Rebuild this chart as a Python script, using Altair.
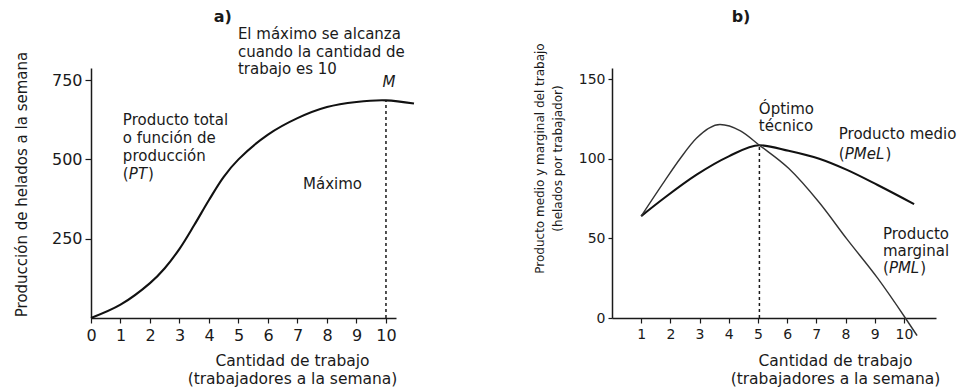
import altair as alt
import pandas as pd

# ---------------- data: panel a) ----------------
trabajo_a = [0, 1, 2, 2.5, 3, 3.5, 4, 4.5, 5, 6, 7, 8, 9, 10, 10.95]
producto_total = [0, 42, 110, 157, 218, 293, 372, 445, 500, 578, 630, 665, 681, 686, 676]
maximo_L = [10]
maximo_PT = [686]

# ---------------- data: panel b) ----------------
trabajo_pme = [1, 1.8, 2.9, 4.0, 5.05, 6.05, 7.1, 8.05, 9.1, 10.35]
producto_medio = [64, 75.5, 90, 101.5, 108.5, 105, 100, 93, 83.5, 71.5]
trabajo_pm = [1, 1.8, 2.35, 2.9, 3.7, 4.4, 5.05, 6.05, 7.1, 8.05, 9.1, 10.05, 10.45]
producto_marginal = [64, 86, 100.5, 113, 121.5, 117.5, 108.5, 94, 72.5, 49.5, 25, 0, -11]
optimo_L = [5.05]
optimo_P = [108.5]

# ---------------- ticks ----------------
xticks_a = list(range(0, 11))
yticks_a = [250, 500, 750]
xticks_b = list(range(1, 11))
yticks_b = [0, 50, 100, 150]

# ---------------- texts ----------------
title_a = "a)"
title_b = "b)"
xtitle = ["Cantidad de trabajo", "(trabajadores a la semana)"]
ytitle_a = "Producción de helados a la semana"
ytitle_b = ["Producto medio y marginal del trabajo", "(helados por trabajador)"]
nota_max = ["El máximo se alcanza", "cuando la cantidad de", "trabajo es 10"]
nota_pt = ["Producto total", "o función de", "producción"]
nota_optimo = ["Óptimo", "técnico"]
nota_pml = ["Producto", "marginal"]

FONT = "DejaVu Sans"
INK = "#1a1a1a"
AFS = 15  # annotation font size

xs_a = alt.Scale(domain=[0, 10.34], nice=False)
ys_a = alt.Scale(domain=[0, 788], nice=False)
xs_b = alt.Scale(domain=[0, 11.1], nice=False)
ys_b = alt.Scale(domain=[0, 157], nice=False)

axis_common = dict(
    grid=False, domainColor=INK, domainWidth=1.5, tickColor=INK, tickWidth=1.2,
    labelColor=INK, titleColor=INK, labelFont=FONT, titleFont=FONT,
    titleFontWeight="normal", labelFlush=False, labelOverlap=False, format="d",
)
ax_xa = alt.Axis(values=xticks_a, title=xtitle, tickSize=5, labelFontSize=16, labelPadding=4,
                 titleFontSize=15.5, titleX=201, titleY=35, titleAlign="center",
                 titleBaseline="top", titleLineHeight=18, **axis_common)
ax_ya = alt.Axis(values=yticks_a, title=ytitle_a, tickSize=6, labelFontSize=16, labelPadding=3,
                 titleFontSize=15, titleX=-70, titleY=116, titleAngle=270,
                 titleAlign="center", titleBaseline="middle", **axis_common)
ax_xb = alt.Axis(values=xticks_b, title=xtitle, tickSize=5, labelFontSize=14, labelPadding=4,
                 titleFontSize=15.5, titleX=223, titleY=35, titleAlign="center",
                 titleBaseline="top", titleLineHeight=18, **axis_common)
ax_yb = alt.Axis(values=yticks_b, title=ytitle_b, tickSize=4, labelFontSize=14, labelPadding=3,
                 titleFontSize=12, titleLineHeight=18, titleX=-73, titleY=90, titleAngle=270,
                 titleAlign="center", titleBaseline="middle", **axis_common)

PA = (xs_a, ys_a, ax_xa, ax_ya)
PB = (xs_b, ys_b, ax_xb, ax_yb)


def enc(panel, xf, yf):
    sx, sy, axx, axy = panel
    return dict(x=alt.X(xf, scale=sx, axis=axx), y=alt.Y(yf, scale=sy, axis=axy))


def txt(panel, xv, yv, texts, **kw):
    df = pd.DataFrame({"x": xv, "y": yv, "t": texts})
    props = dict(font=FONT, fontSize=AFS, color=INK, align="left", baseline="middle")
    props.update(kw)
    return alt.Chart(df).mark_text(**props).encode(text="t:N", **enc(panel, "x:Q", "y:Q"))


def paren(panel, xv, yv, inner, w_inner):
    o = txt(panel, [xv], [yv], ["("])
    i = txt(panel, [xv], [yv], [inner], fontStyle="italic", dx=6)
    c = txt(panel, [xv], [yv], [")"], dx=6 + w_inner + 1)
    return [o, i, c]


def dashed(panel, xv, yv):
    df = pd.DataFrame({"x": xv, "y": yv, "z": [0] * len(xv)})
    return alt.Chart(df).mark_rule(color=INK, strokeWidth=1.5, strokeDash=[3, 3]).encode(
        y2="y:Q", **enc(panel, "x:Q", "z:Q"))


# ---------------- panel a ----------------
df_a = pd.DataFrame({"L": trabajo_a, "PT": producto_total})
line_a = alt.Chart(df_a).mark_line(
    color="#111", strokeWidth=2.1, interpolate="catmull-rom", clip=False
).encode(**enc(PA, "L:Q", "PT:Q"))
layers_a = [
    line_a,
    dashed(PA, maximo_L, maximo_PT),
    txt(PA, [4.47], [949], [title_a], align="center", fontWeight="bold", fontSize=16),
    txt(PA, [4.98] * 3, [895, 838, 785], nota_max),
    txt(PA, [10.1], [744], ["M"], align="center", fontStyle="italic"),
    txt(PA, [1.08] * 3, [624, 567, 511], nota_pt),
    txt(PA, [7.19], [422], ["Máximo"]),
] + paren(PA, 1.08, 454, "PT", 18.2)
panel_a = alt.layer(*layers_a).properties(width=305, height=250)

# ---------------- panel b ----------------
df_me = pd.DataFrame({"L": trabajo_pme, "P": producto_medio})
df_mg = pd.DataFrame({"L": trabajo_pm, "P": producto_marginal})
line_me = alt.Chart(df_me).mark_line(
    color="#111", strokeWidth=2.1, interpolate="monotone", clip=False
).encode(**enc(PB, "L:Q", "P:Q"))
line_mg = alt.Chart(df_mg).mark_line(
    color="#333", strokeWidth=1.4, interpolate="monotone", clip=False
).encode(**enc(PB, "L:Q", "P:Q"))
layers_b = [
    line_me, line_mg,
    dashed(PB, optimo_L, optimo_P),
    txt(PB, [4.42], [189], [title_b], align="center", fontWeight="bold", fontSize=16),
    txt(PB, [5.03, 5.03], [131, 120.5], nota_optimo),
    txt(PB, [7.77], [115.5], ["Producto medio"]),
    txt(PB, [9.28, 9.28], [52.5, 41.8], nota_pml),
] + paren(PB, 7.77, 103, "PMeL", 39.6) + paren(PB, 9.28, 31.2, "PML", 30.3)
panel_b = alt.layer(*layers_b).properties(width=324, height=250)

chart = alt.hconcat(panel_a, panel_b, spacing=216, bounds="flush").properties(
    padding={"left": 5, "top": 0, "right": 0, "bottom": 0}
).configure(background="white").configure_view(stroke=None)

chart.save("out.html", embed_options={"renderer": "svg", "actions": False})
